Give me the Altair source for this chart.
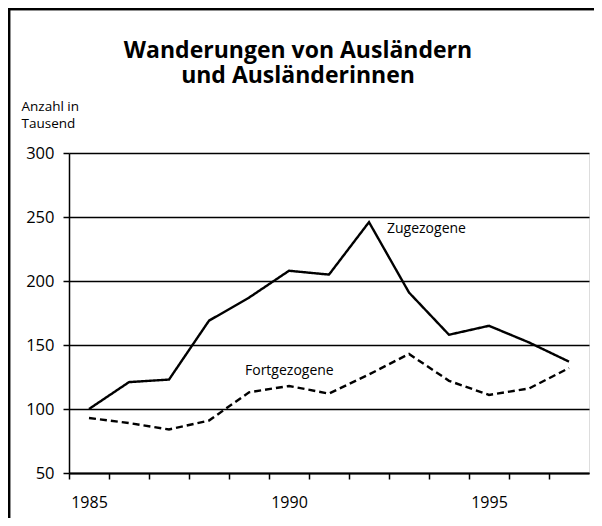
import altair as alt
import pandas as pd

years = list(range(1985, 1998))
zugezogene = [100, 121, 123, 169, 187, 208, 205, 246, 191, 158, 165, 152, 137]
fortgezogene = [93, 89, 84, 91, 113, 118, 112, 127, 143, 122, 111, 116, 132]
tick_years = list(range(1985, 1999))
label_years = [1985, 1990, 1995]
series_names = ["Zugezogene", "Fortgezogene"]
label_x = [1992.45, 1988.9]
label_y = [240.5, 129.5]

FONT = "Open Sans"

df = pd.DataFrame({
    "Jahr": years * 2,
    "Wert": zugezogene + fortgezogene,
    "Reihe": [series_names[0]] * len(years) + [series_names[1]] * len(years),
})
labels_df = pd.DataFrame({"Jahr": label_x, "Wert": label_y, "Text": series_names})

label_expr = " : ".join(
    [f"datum.value == {y} ? '{y}'" for y in label_years]
) + " : ''"

x_scale = alt.Scale(domain=[1984.5, 1997.5], nice=False, zero=False)
y_scale = alt.Scale(domain=[50, 300], nice=False, zero=False)

x_enc = alt.X(
    "Jahr:Q",
    scale=x_scale,
    axis=alt.Axis(
        values=tick_years,
        labelExpr=label_expr,
        tickOffset=-20,
        labelOffset=20,
        labelFlush=False,
        labelOverlap=False,
        labelBound=False,
        grid=False,
        title=None,
        tickSize=6,
        tickColor="black",
        tickWidth=1.5,
        domainColor="black",
        domainWidth=2,
        labelFont=FONT,
        labelFontSize=16,
        labelColor="black",
        labelPadding=15,
    ),
)
y_enc = alt.Y(
    "Wert:Q",
    scale=y_scale,
    axis=alt.Axis(
        values=[50, 100, 150, 200, 250, 300],
        grid=True,
        gridColor="black",
        gridWidth=1.6,
        gridOpacity=1,
        tickSize=6,
        tickColor="black",
        tickWidth=1.5,
        domainColor="black",
        domainWidth=1.5,
        labelFont=FONT,
        labelFontSize=16.5,
        labelColor="black",
        labelPadding=9,
        title=["Anzahl in", "Tausend"],
        titleAngle=0,
        titleAlign="left",
        titleBaseline="alphabetic",
        titleX=-48,
        titleY=-43,
        titleFont=FONT,
        titleFontSize=13.5,
        titleFontWeight="normal",
        titleColor="black",
        titleLineHeight=17,
    ),
)

lines = alt.Chart(df).mark_line(color="black", strokeWidth=2.4).encode(
    x=x_enc,
    y=y_enc,
    strokeDash=alt.StrokeDash(
        "Reihe:N",
        scale=alt.Scale(domain=series_names, range=[[1, 0], [7, 4]]),
        legend=None,
    ),
    detail="Reihe:N",
)

texts = alt.Chart(labels_df).mark_text(
    align="left", baseline="middle", font=FONT, fontSize=14, color="black"
).encode(x=alt.X("Jahr:Q", scale=x_scale), y=alt.Y("Wert:Q", scale=y_scale), text="Text:N")

frame_left = alt.Chart(labels_df).mark_rule(color="black", strokeWidth=2.5).encode(
    x=alt.value(-60), y=alt.value(-150), y2=alt.value(400)
)
frame_top = alt.Chart(labels_df).mark_rule(color="black", strokeWidth=2.5).encode(
    x=alt.value(-62), x2=alt.value(540), y=alt.value(-144)
)

chart = alt.layer(lines, texts, frame_left, frame_top).properties(
    width=520,
    height=320,
    autosize=alt.AutoSizeParams(type="none"),
    padding={"left": 61, "top": 145, "right": 5, "bottom": 45},
    title=alt.TitleParams(
        text=["Wanderungen von Ausländern", "und Ausländerinnen"],
        font=FONT,
        fontSize=23,
        fontWeight="bold",
        color="black",
        anchor="middle",
        baseline="bottom",
        lineHeight=25,
        offset=-109,
        dx=-31,
    ),
).configure_view(stroke=None).configure(background="white")

chart.save("out.html", embed_options={"renderer": "svg", "actions": False})
